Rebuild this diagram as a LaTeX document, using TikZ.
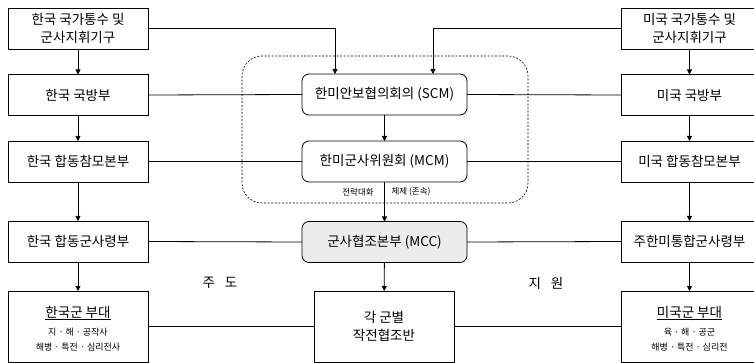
\documentclass[tikz,border=0pt]{standalone}
\usepackage{fontspec}
\setmainfont{Noto Sans CJK KR}
\usetikzlibrary{arrows.meta,calc}
\begin{document}
\begin{tikzpicture}[x=1pt,y=-1pt,
  every node/.style={inner sep=0pt,outer sep=0pt},
  box/.style={draw,line width=0.8pt,fill=white,align=center,font=\fontsize{13.5}{18}\selectfont},
  lbox/.style={box,minimum width=140pt,minimum height=41pt},
  rbox/.style={box,minimum width=137pt,minimum height=41pt},
  cbox/.style={box,rounded corners=7pt,minimum width=165pt,minimum height=41pt},
  arr/.style={-{Triangle[length=5pt,width=5pt]},line width=0.8pt},
  conn/.style={line width=0.8pt},
  small/.style={font=\fontsize{9}{15}\selectfont},
  tiny/.style={font=\fontsize{8.5}{10}\selectfont},
  lab/.style={font=\fontsize{13.5}{15}\selectfont}]
\useasboundingbox (0,0) rectangle (754,363);
% dashed group
\draw[line width=0.6pt,dash pattern=on 2pt off 1.6pt,rounded corners=20pt] (242,56) rectangle (528,203);
% left column
\node[lbox] (k1) at (78,28.5) {한국 국가통수 및\\군사지휘기구};
\node[lbox] (k2) at (78,95) {한국 국방부};
\node[lbox] (k3) at (78,161.5) {한국 합동참모본부};
\node[lbox] (k4) at (78,241.5) {한국 합동군사령부};
\node[lbox,minimum height=71pt] (k5) at (78,326.5) {};
\node (k5t) at (78,313) {\fontsize{13.5}{15}\selectfont\underline{한국군 부대}};
\node[small,align=center] (k5s) at (78,340) {지 · 해 · 공작사\\해병 · 특전 · 심리전사};
% right column
\node[rbox] (u1) at (689.5,28.5) {미국 국가통수 및\\군사지휘기구};
\node[rbox] (u2) at (689.5,95) {미국 국방부};
\node[rbox] (u3) at (689.5,161.5) {미국 합동참모본부};
\node[rbox] (u4) at (689.5,241.5) {주한미통합군사령부};
\node[rbox,minimum height=71pt] (u5) at (689.5,326.5) {};
\node (u5t) at (689.5,313) {\fontsize{13.5}{15}\selectfont\underline{미국군 부대}};
\node[small,align=center] (u5s) at (689.5,340) {육 · 해 · 공군\\해병 · 특전 · 심리전};
% center column
\node[cbox] (scm) at (384.5,94.5) {한미안보협의회의 (SCM)};
\node[cbox] (mcm) at (384.5,161.5) {한미군사위원회 (MCM)};
\node[cbox,fill=gray!15] (mcc) at (384.5,242) {군사협조본부 (MCC)};
\node[box,minimum width=140pt,minimum height=71pt] (ops) at (384,326.5) {각 군별\\작전협조반};
% vertical arrows
\draw[arr] (k1) -- (k2);
\draw[arr] (k2) -- (k3);
\draw[arr] (k3) -- (k4);
\draw[arr] (k4) -- (k5);
\draw[arr] (u1) -- (u2);
\draw[arr] (u2) -- (u3);
\draw[arr] (u3) -- (u4);
\draw[arr] (u4) -- (u5);
\draw[arr] (scm) -- (mcm);
\draw[arr] (mcm) -- (mcc);
\draw[arr] (mcc) -- (ops);
% top connectors
\draw[arr] (k1.east) -| ([xshift=-49.5pt]scm.north);
\draw[arr] (u1.west) -| ([xshift=48.5pt]scm.north);
% horizontal connectors
\draw[conn] (k2.east) -- (scm.west);
\draw[conn] (u2.west) -- (scm.east);
\draw[conn] (k3.east) -- (mcm.west);
\draw[conn] (u3.west) -- (mcm.east);
\draw[conn] (k4.east) -- (mcc.west);
\draw[conn] (u4.west) -- (mcc.east);
\draw[conn] (k5.east) -- (ops.west);
\draw[conn] (u5.west) -- (ops.east);
% labels
\node[tiny] (l1) at (358,192) {전략대화};
\node[tiny] (l2) at (411,192) {체제 (존속)};
\node[lab] (l3) at (220,283) {주\hspace{10pt}도};
\node[lab] (l4) at (546,283) {지\hspace{10pt}원};
\end{tikzpicture}
\end{document}
